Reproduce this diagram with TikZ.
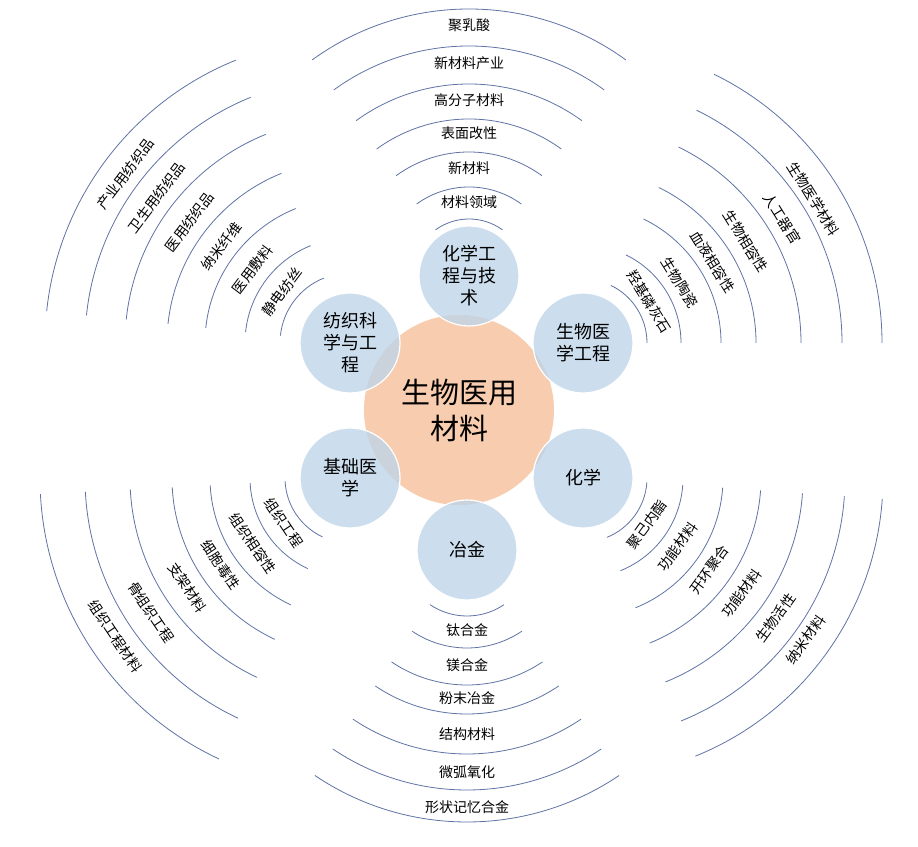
\documentclass[tikz,border=0pt]{standalone}
\usepackage{fontspec}
\setmainfont{Noto Sans CJK SC}
\usetikzlibrary{calc}
\definecolor{arcc}{RGB}{95,115,165}
\definecolor{orangec}{RGB}{248,204,174}
\definecolor{bluec}{RGB}{190,212,234}
\tikzset{
  arcline/.style={draw=arcc, line width=0.8pt},
  lbl/.style={inner sep=0pt, font=\fontsize{14}{16}\selectfont},
  sat/.style={circle, minimum size=100pt, inner sep=0pt, fill=bluec, fill opacity=0.78, text opacity=1, draw=white, line width=1.2pt, align=center, font=\fontsize{18}{22}\selectfont},
}
\newcommand\ringgroup[6]{%
  \foreach \r in {#5} \draw[arcline] ($(#1)+(#2-#3:\r)$) arc[start angle=#2-#3, end angle=#2+#3, radius=\r];
  \foreach \t/\tr [count=\k] in {#6} \node[lbl, rotate=#4, name=#1t\k] at ($(#1)+(#2:\tr)$) {\t};
}
\begin{document}
\begin{tikzpicture}[x=1pt,y=1pt]
\useasboundingbox (0,0) rectangle (918,846);
\fill[white] (0,0) rectangle (918,846);
\coordinate (T) at (469,570);
\coordinate (UR) at (583,503);
\coordinate (LR) at (583,368);
\coordinate (B) at (467,296);
\coordinate (LL) at (350,368);
\coordinate (UL) at (350,503);
\node[circle, fill=orangec, minimum size=190pt, inner sep=0pt, align=center, font=\fontsize{29}{36}\selectfont] (C) at (459,436) {生物医用\\材料};
\node[sat] (sT) at (T) {化学工\\程与技\\术};
\node[sat] (sUR) at (UR) {生物医\\学工程};
\node[sat] (sLR) at (LR) {化学};
\node[sat] (sB) at (B) {冶金};
\node[sat] (sLL) at (LL) {基础医\\学};
\node[sat] (sUL) at (UL) {纺织科\\学与工\\程};
\ringgroup{T}{90}{36}{0}{57,89,124,157,192,230,267}{材料领域/74,新材料/108,表面改性/143,高分子材料/176,新材料产业/213,聚乳酸/251}
\ringgroup{B}{-90}{34}{0}{66,98,135,164,204,240,272}{钛合金/80,镁合金/115,粉末冶金/148,结构材料/184,微弧氧化/222,形状记忆合金/257}
\ringgroup{UR}{32}{32}{-58}{64,98,138,173,218,259,299}{羟基磷灰石/78,生物陶瓷/114,血液相容性/153,生物相容性/192,人工器官/235,生物医学材料/272}
\ringgroup{LR}{-36}{32}{54}{64,100,140,178,220,262,300}{聚己内酯/79,功能材料/117,开环聚合/156,功能材料/196,生物活性/238,纳米材料/275}
\ringgroup{LL}{214}{31}{-56}{65,100,140,178,220,265,310}{组织工程/80,组织相容性/117,细胞毒性/156,支架材料/196,骨组织工程/240,组织工程材料/283}
\ringgroup{UL}{143}{31}{53}{70,105,145,183,225,265,305}{静电纺丝/85,医用敷料/122,纳米纤维/161,医用纺织品/201,卫生用纺织品/242,产业用纺织品/281}
\end{tikzpicture}
\end{document}
